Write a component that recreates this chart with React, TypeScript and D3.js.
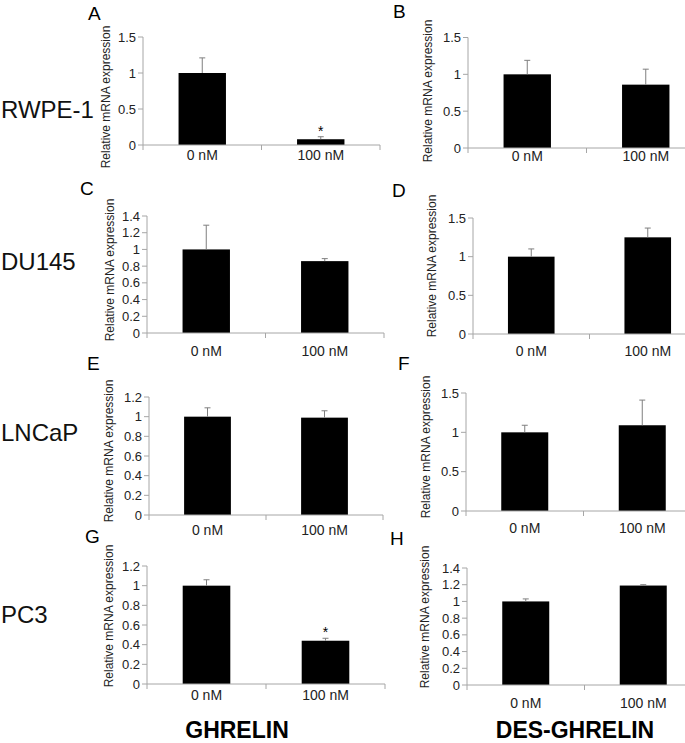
import React from 'react';
import * as d3 from 'd3';

// chart data
const categories = ['0 nM', '100 nM'];
const cellLines = ['RWPE-1', 'DU145', 'LNCaP', 'PC3'];
const treatments = ['GHRELIN', 'DES-GHRELIN'];
const panelLetters = ['A', 'B', 'C', 'D', 'E', 'F', 'G', 'H'];

// one row per panel, A..H (left column ghrelin, right column des-ghrelin)
const means = [
  [1, 0.08], [1, 0.86],
  [1, 0.86], [1, 1.25],
  [1, 0.99], [1, 1.09],
  [1, 0.44], [1, 1.19],
];
const errors = [
  [0.21, 0.035], [0.19, 0.21],
  [0.29, 0.03], [0.1, 0.12],
  [0.09, 0.07], [0.09, 0.32],
  [0.06, 0.025], [0.03, 0.01],
];
const yMax = [1.5, 1.5, 1.4, 1.5, 1.2, 1.5, 1.2, 1.4];
const yStep = [0.5, 0.5, 0.2, 0.5, 0.2, 0.5, 0.2, 0.2];
const significant = [
  [false, true], [false, false],
  [false, false], [false, false],
  [false, false], [false, false],
  [false, true], [false, false],
];

// where each panel sits on the page
const layout = [
  { ax: 143, y0: 145, yTop: 37, xEnd: 380, labY: 160, titleX: 106, titleY: 97, letX: 88, letY: 20 },
  { ax: 468, y0: 148, yTop: 37.5, xEnd: 705, labY: 161, titleX: 428, titleY: 91, letX: 393, letY: 18 },
  { ax: 147, y0: 333, yTop: 216, xEnd: 384, labY: 356, titleX: 110, titleY: 270, letX: 80, letY: 195 },
  { ax: 473, y0: 334, yTop: 218, xEnd: 706, labY: 356, titleX: 432, titleY: 266, letX: 392, letY: 197 },
  { ax: 149, y0: 515, yTop: 397, xEnd: 383, labY: 535, titleX: 109, titleY: 451, letX: 87, letY: 370 },
  { ax: 466, y0: 511, yTop: 393, xEnd: 701, labY: 533, titleX: 426, titleY: 447, letX: 398, letY: 370 },
  { ax: 147, y0: 684, yTop: 566, xEnd: 385, labY: 700, titleX: 109, titleY: 616, letX: 85, letY: 543 },
  { ax: 467, y0: 685, yTop: 568, xEnd: 702, labY: 708, titleX: 425, titleY: 617, letX: 390, letY: 545 },
];
const rowLabelY = [118, 270, 441, 623];
const colLabelX = [237, 575];

const font = '"Liberation Sans", Arial, sans-serif';
const axisColor = '#a6a6a6';
const errColor = '#7f7f7f';

function Panel({ i }: { i: number }) {
  const L = layout[i];
  const x = d3.scaleBand<string>()
    .domain(categories)
    .range([L.ax, L.xEnd])
    .paddingInner(0.6)
    .paddingOuter(0.3);
  const y = d3.scaleLinear().domain([0, yMax[i]]).range([L.y0, L.yTop]);
  const ticks = d3.range(0, yMax[i] + yStep[i] / 2, yStep[i]).map(v => +v.toFixed(1));
  const step = (L.xEnd - L.ax) / categories.length;
  const xTicks = d3.range(categories.length + 1).map(k => L.ax + k * step);

  return (
    <g>
      <text x={L.letX} y={L.letY} fontSize={19} fontFamily={font}>{panelLetters[i]}</text>
      <text
        transform={`translate(${L.titleX},${L.titleY}) rotate(-90)`}
        textAnchor="middle"
        dominantBaseline="central"
        fontSize={12}
        fontFamily={font}
        fill="#222"
      >
        Relative mRNA expression
      </text>
      {/* y axis */}
      <line x1={L.ax} x2={L.ax} y1={L.y0} y2={y(yMax[i])} stroke={axisColor} />
      {ticks.map(t => (
        <g key={t}>
          <line x1={L.ax - 5} x2={L.ax} y1={y(t)} y2={y(t)} stroke={axisColor} />
          <text x={L.ax - 7} y={y(t)} dy="0.35em" textAnchor="end" fontSize={13} fontFamily={font} fill="#222">
            {String(t)}
          </text>
        </g>
      ))}
      {/* bars */}
      {categories.map((c, j) => {
        const cx = (x(c) as number) + x.bandwidth() / 2;
        const top = y(means[i][j] + errors[i][j]);
        return (
          <g key={c}>
            <rect
              x={x(c)}
              y={y(means[i][j])}
              width={x.bandwidth()}
              height={L.y0 - y(means[i][j])}
              fill="#000"
            />
            <line x1={cx} x2={cx} y1={y(means[i][j])} y2={top} stroke={errColor} />
            <line x1={cx - 3} x2={cx + 3} y1={top} y2={top} stroke={errColor} />
            {significant[i][j] && (
              <text x={cx} y={top - 1} textAnchor="middle" fontSize={14} fontFamily={font}>*</text>
            )}
          </g>
        );
      })}
      {/* x axis */}
      <line x1={L.ax} x2={L.xEnd} y1={L.y0} y2={L.y0} stroke={axisColor} />
      {xTicks.map(t => (
        <line key={t} x1={t} x2={t} y1={L.y0} y2={L.y0 + 5} stroke={axisColor} />
      ))}
      {categories.map(c => (
        <text
          key={c}
          x={(x(c) as number) + x.bandwidth() / 2}
          y={L.labY}
          textAnchor="middle"
          fontSize={14}
          fontFamily={font}
          fill="#222"
        >
          {c}
        </text>
      ))}
    </g>
  );
}

export default function App() {
  return (
    <svg
      width={685}
      height={743}
      style={{ position: 'absolute', left: 0, top: 0, background: '#fff' }}
    >
      <rect width={685} height={743} fill="#fff" />
      {cellLines.map((name, r) => (
        <text key={name} x={1} y={rowLabelY[r]} fontSize={24} fontFamily={font} fill="#111">
          {name}
        </text>
      ))}
      {panelLetters.map((_, i) => <Panel key={i} i={i} />)}
      {treatments.map((t, c) => (
        <text
          key={t}
          x={colLabelX[c]}
          y={738}
          textAnchor="middle"
          fontSize={23}
          fontWeight="bold"
          fontFamily={font}
        >
          {t}
        </text>
      ))}
    </svg>
  );
}
